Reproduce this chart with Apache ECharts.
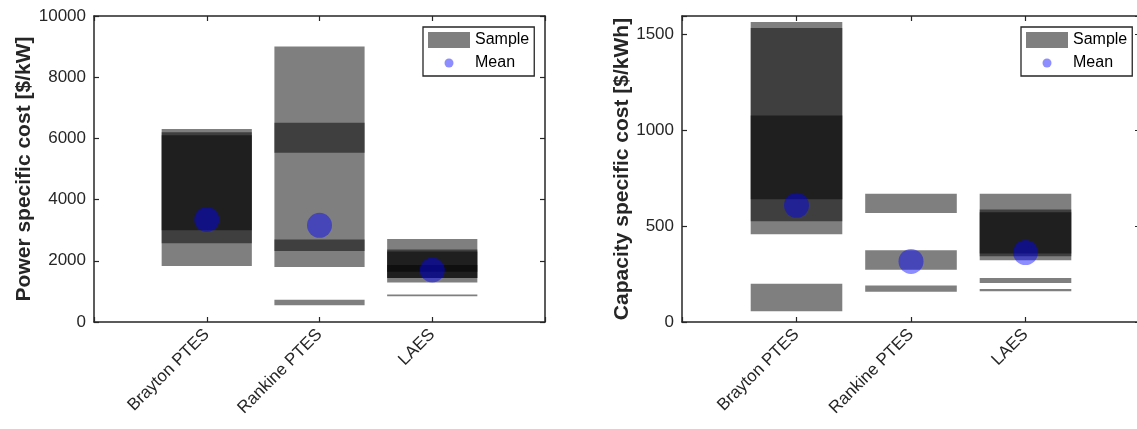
<!DOCTYPE html>
<html>
<head>
<meta charset="utf-8">
<script src="https://cdn.jsdelivr.net/npm/echarts@6/dist/echarts.min.js"></script>
<style>
  html, body { margin: 0; padding: 0; background: #fff; }
  #chart { width: 1137px; height: 429px; }
</style>
</head>
<body>
<div id="chart"></div>
<script>
const categories = ["Brayton PTES", "Rankine PTES", "LAES"];

// each sample is [technology, low, high]
const powerSamples = [
  ["Brayton PTES", 1830, 6310], ["Brayton PTES", 2570, 6200], ["Brayton PTES", 3000, 6100],
  ["Rankine PTES", 1800, 9000], ["Rankine PTES", 5530, 6510], ["Rankine PTES", 2320, 2700], ["Rankine PTES", 550, 730],
  ["LAES", 1290, 2710], ["LAES", 1440, 2370], ["LAES", 1440, 2300], ["LAES", 1640, 1860], ["LAES", 840, 900],
];
const powerMean = [3350, 3160, 1700];

const capacitySamples = [
  ["Brayton PTES", 457, 1564], ["Brayton PTES", 525, 1533], ["Brayton PTES", 640, 1076], ["Brayton PTES", 56, 200],
  ["Rankine PTES", 568, 669], ["Rankine PTES", 273, 374], ["Rankine PTES", 158, 190],
  ["LAES", 322, 669], ["LAES", 343, 586], ["LAES", 357, 572], ["LAES", 203, 229], ["LAES", 160, 172],
];
const capacityMean = [608, 316, 362];

const FONT = "'Liberation Sans', Arial, sans-serif";
const AXIS_COLOR = "#262626";
const SAMPLE_FILL = "rgba(0,0,0,0.5)";
const MEAN_FILL = "rgba(0,0,255,0.56)";
// small dot centred in a 42x16 legend slot
const MEAN_ICON = "path://M0,0M42,16M25.5,8A4.5,4.5,0,1,1,16.5,8A4.5,4.5,0,1,1,25.5,8Z";

const chart = echarts.init(document.getElementById("chart"), null, { renderer: "canvas" });

function sampleRender(params, api) {
  const x = api.value(0);
  const p1 = api.coord([x - 0.4, api.value(2)]);
  const p2 = api.coord([x + 0.4, api.value(1)]);
  return {
    type: "rect",
    shape: { x: p1[0], y: p1[1], width: p2[0] - p1[0], height: p2[1] - p1[1] },
    style: { fill: SAMPLE_FILL },
  };
}

const line = { show: true, onZero: false, lineStyle: { color: AXIS_COLOR, width: 1.5 } };
const tick = { show: true, inside: true, length: 5, lineStyle: { color: AXIS_COLOR, width: 1.2 } };

function xAxes(gridIndex) {
  return [
    {
      type: "value", gridIndex, min: 0, max: 4, interval: 1, position: "bottom",
      axisLine: line, axisTick: tick, splitLine: { show: false },
      axisLabel: {
        formatter: (v) => categories[v - 1] || "", rotate: 45, margin: 10,
        fontSize: 17, fontFamily: FONT, color: AXIS_COLOR,
      },
    },
    {
      type: "value", gridIndex, min: 0, max: 4, interval: 1, position: "top",
      axisLine: line, axisTick: tick, splitLine: { show: false }, axisLabel: { show: false },
    },
  ];
}

function yAxes(gridIndex, max, interval, name, nameGap) {
  return [
    {
      type: "value", gridIndex, min: 0, max, interval, position: "left",
      axisLine: line, axisTick: tick, splitLine: { show: false },
      axisLabel: {
        formatter: (v) => (v % interval === 0 ? String(v) : ""),
        fontSize: 17, fontFamily: FONT, color: AXIS_COLOR, margin: 8,
      },
      name, nameLocation: "middle", nameGap,
      nameTextStyle: { fontSize: 21, fontWeight: "bold", fontFamily: FONT, color: AXIS_COLOR },
    },
    {
      type: "value", gridIndex, min: 0, max, interval, position: "right",
      axisLine: line, axisTick: tick, splitLine: { show: false }, axisLabel: { show: false },
    },
  ];
}

function legendAt(left) {
  return {
    left, top: 27, orient: "vertical",
    padding: [5, 5, 5, 5], itemGap: 7, itemWidth: 42, itemHeight: 16,
    borderColor: AXIS_COLOR, borderWidth: 1.3, backgroundColor: "#fff",
    selectedMode: false,
    textStyle: { fontSize: 16, fontFamily: FONT, color: "#000", lineHeight: 16 },
    data: [
      { name: "Sample", icon: "rect" },
      { name: "Mean", icon: MEAN_ICON, itemStyle: { color: MEAN_FILL, borderWidth: 0 } },
    ],
  };
}

function toRects(samples) {
  return samples.map((s) => [categories.indexOf(s[0]) + 1, s[1], s[2]]);
}
function toPoints(means) {
  return means.map((m, i) => [i + 1, m]);
}

chart.setOption({
  backgroundColor: "#fff",
  animation: false,
  grid: [
    { left: 94, top: 16, width: 451, height: 306, outerBoundsMode: "none" },
    { left: 682, top: 16, width: 458, height: 306, outerBoundsMode: "none" },
  ],
  xAxis: [...xAxes(0), ...xAxes(1)],
  yAxis: [
    ...yAxes(0, 10000, 2000, "Power specific cost [$/kW]", 56),
    ...yAxes(1, 1595, 500, "Capacity specific cost [$/kWh]", 48),
  ],
  legend: [legendAt(423), legendAt(1021)],
  series: [
    {
      name: "Sample", type: "custom", xAxisIndex: 0, yAxisIndex: 0,
      renderItem: sampleRender, itemStyle: { color: SAMPLE_FILL },
      encode: { x: 0, y: [1, 2] }, data: toRects(powerSamples),
    },
    {
      name: "Mean", type: "scatter", xAxisIndex: 0, yAxisIndex: 0,
      symbolSize: 25, itemStyle: { color: MEAN_FILL }, data: toPoints(powerMean),
    },
    {
      name: "Sample", type: "custom", xAxisIndex: 2, yAxisIndex: 2,
      renderItem: sampleRender, itemStyle: { color: SAMPLE_FILL },
      encode: { x: 0, y: [1, 2] }, data: toRects(capacitySamples),
    },
    {
      name: "Mean", type: "scatter", xAxisIndex: 2, yAxisIndex: 2,
      symbolSize: 25, itemStyle: { color: MEAN_FILL }, data: toPoints(capacityMean),
    },
  ],
});
</script>
</body>
</html>
